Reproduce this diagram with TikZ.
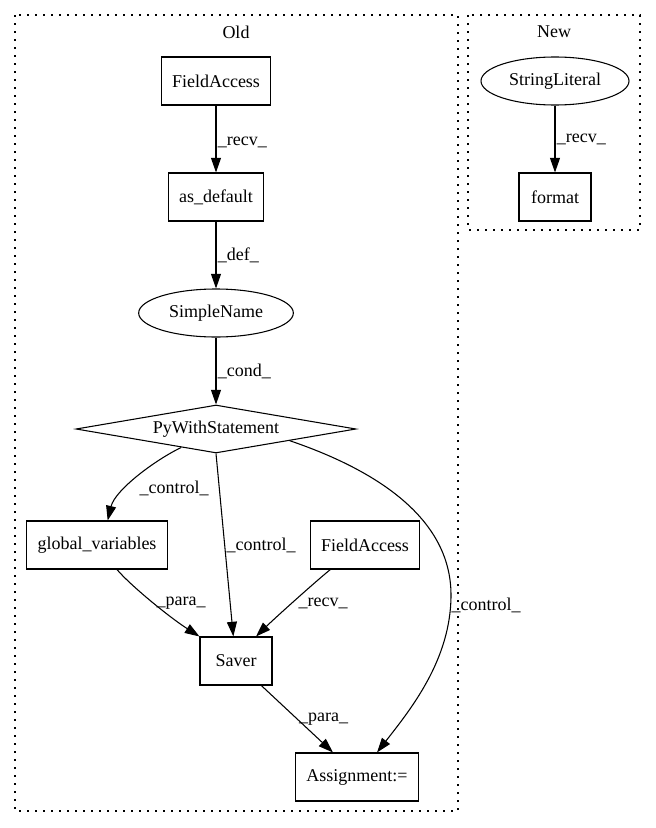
\documentclass[tikz,border=0pt]{standalone}
\usepackage{fontspec}
\setmainfont{Liberation Serif}
\usetikzlibrary{arrows.meta,shapes.geometric}

\begin{document}
\begin{tikzpicture}[x=0.75pt, y=-0.75pt,
    font=\fontsize{13.5}{16}\selectfont,
    box/.style={draw, line width=0.8pt, rectangle, minimum width=54pt, minimum height=36pt, inner xsep=8pt},
    oval/.style={draw, line width=0.8pt, ellipse, inner sep=0pt, minimum height=36pt},
    cond/.style={draw, line width=0.8pt, diamond, aspect=6, inner sep=0pt, minimum width=210pt, minimum height=36pt},
    edge/.style={-{Triangle[length=11pt,width=7.5pt]}, line width=0.8pt},
    lbl/.style={right, inner sep=1pt},
    cluster/.style={line width=0.9pt, dash pattern=on 1.5pt off 4.5pt}]

    % Background and clusters
    \fill[white] (0,0) rectangle (656,828);
    \draw[cluster] (15,15) rectangle (458,811);
    \draw[cluster] (468,15) rectangle (640,230);
    \node (oldlbl) at (236,32) {Old};
    \node (newlbl) at (554,32) {New};

    % Old nodes
    \node[box] (fa1) at (216,81) {FieldAccess};
    \node[box] (asdef) at (216,197) {as\_default};
    \node[oval, minimum width=116pt] (sname) at (216,313) {SimpleName};
    \node[cond] (pywith) at (216,429) {PyWithStatement};
    \node[box] (globvars) at (97,545) {global\_variables};
    \node[box] (fa2) at (365,545) {FieldAccess};
    \node[box] (saver) at (236,661) {Saver};
    \node[box] (assign) at (357,777) {Assignment:=};

    % New nodes
    \node[oval, minimum width=111pt] (slit) at (555,81) {StringLiteral};
    \node[box] (fmt) at (555,197) {format};

    % Old edges
    \draw[edge] (fa1.south) -- (asdef.north) node[lbl, pos=0.55] {\_recv\_};
    \draw[edge] (asdef.south) -- (sname.north) node[lbl, midway] {\_def\_};
    \draw[edge] (sname.south) -- (pywith.north) node[lbl, midway] {\_cond\_};
    \draw[edge] (pywith.208) .. controls (155,460) and (115,490) .. ([xshift=8pt]globvars.north);
    \node[lbl] (ctl1) at (138,488) {\_control\_};
    \draw[edge] (pywith.south) -- ([xshift=-2pt]saver.north) node[lbl, midway] {\_control\_};
    \draw[edge] (pywith.-9) .. controls (370,468) and (451,515) .. (451,595)
        node[anchor=west, inner sep=0pt, yshift=-8pt] {\_control\_}
        .. controls (451,660) and (410,710) .. ([xshift=15pt]assign.north);
    \draw[edge] ([xshift=15pt]globvars.south) .. controls (130,585) and (169,617) .. (saver.north west);
    \node[lbl] (para1) at (155,603) {\_para\_};
    \draw[edge] ([xshift=-26pt]fa2.south) .. controls (315,582) and (275,618) .. ([xshift=15pt]saver.north);
    \node[lbl] (recv2) at (297,603) {\_recv\_};
    \draw[edge] ([xshift=19pt]saver.south) -- ([xshift=-18pt]assign.north) node[lbl, midway] {\_para\_};

    % New edges
    \draw[edge] (slit.south) -- (fmt.north) node[lbl, midway] {\_recv\_};
\end{tikzpicture}
\end{document}
